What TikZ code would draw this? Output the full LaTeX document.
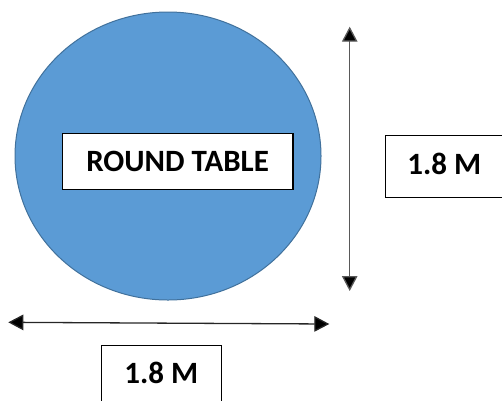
\documentclass[tikz,border=0pt]{standalone}
\usepackage{fontspec}
\setmainfont{Carlito}
\usetikzlibrary{arrows.meta,shapes.geometric}
\definecolor{tablefill}{HTML}{5B9BD5}
\definecolor{tableedge}{HTML}{41719C}
\definecolor{dimline}{HTML}{595959}
\begin{document}
\begin{tikzpicture}[
  x=1pt, y=-1pt,
  labelbox/.style={draw=black, line width=1.2pt, fill=white, inner sep=0pt,
    font=\fontsize{31}{34}\selectfont\bfseries},
  cutbox/.style={labelbox, draw=none},
  boxedge/.style={draw=black, line width=1.2pt},
  dimarrow/.style={line width=1.3pt, draw=dimline,
    {Triangle[width=15.5pt,length=15pt,fill=black]}-{Triangle[width=15.5pt,length=15pt,fill=black]}},
]
\useasboundingbox (0,0) rectangle (502,400);
% table
\node[ellipse, draw=tableedge, line width=1pt, fill=tablefill,
  minimum width=306pt, minimum height=288pt] (table) at (168,156) {};
\node[labelbox, anchor=north west, text height=38.3pt, text depth=18pt] (name)
  at (61.7,132.7) {\makebox[230.6pt]{ROUND TABLE}};
% dimensions
\coordinate (top) at (349.7,26.7);
\coordinate (bottom) at (349.7,291);
\coordinate (left) at (8.3,322.3);
\coordinate (right) at (329.3,324);
\draw[dimarrow] (top) -- (bottom);
\draw[dimarrow, draw=black!85] (left) -- (right);
% labels cut by the page edge
\node[cutbox, anchor=north west, text height=38.7pt, text depth=22.3pt] (height)
  at (385.7,135.3) {\makebox[150pt][l]{\hspace{21pt}1.8 M}};
\draw[boxedge] (height.north east) -- (height.north west) -- (height.south west) -- (height.south east);
\node[cutbox, anchor=north west, text height=37.6pt, text depth=40pt] (width)
  at (101.3,345.7) {\makebox[118.7pt]{1.8 M}};
\draw[boxedge] (width.south west) -- (width.north west) -- (width.north east) -- (width.south east);
\end{tikzpicture}
\end{document}
